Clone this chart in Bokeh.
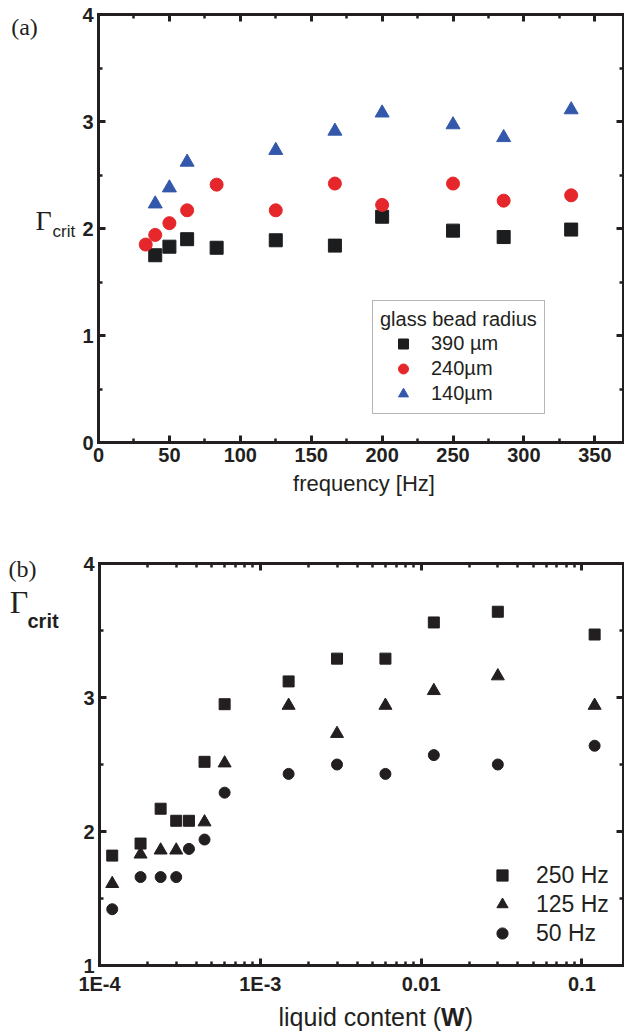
import math
from bokeh.plotting import figure
from bokeh.models import (FixedTicker, LinearAxis, LogAxis, Label, Legend, LegendItem,
                          CustomJSTickFormatter, Range1d)
from bokeh.layouts import column
from bokeh.embed import file_html
from bokeh.resources import INLINE

# ---------------- data: panel (a) ----------------
freq_390 = [40, 50, 62.5, 83.3, 125, 166.7, 200, 250, 285.7, 333.3]
gamma_390 = [1.75, 1.83, 1.90, 1.82, 1.89, 1.84, 2.11, 1.98, 1.92, 1.99]
freq_240 = [33.3, 40, 50, 62.5, 83.3, 125, 166.7, 200, 250, 285.7, 333.3]
gamma_240 = [1.85, 1.94, 2.05, 2.17, 2.41, 2.17, 2.42, 2.22, 2.42, 2.26, 2.31]
freq_140 = [40, 50, 62.5, 125, 166.7, 200, 250, 285.7, 333.3]
gamma_140 = [2.23, 2.38, 2.62, 2.73, 2.91, 3.08, 2.97, 2.85, 3.11]
labels_a = ["390 µm", "240µm", "140µm"]
xticks_a = [0, 50, 100, 150, 200, 250, 300, 350]
xminor_a = [25, 75, 125, 175, 225, 275, 325]
yticks_a = [0, 1, 2, 3, 4]
yminor_a = [0.5, 1.5, 2.5, 3.5]

# ---------------- data: panel (b) ----------------
w_250 = [1.2e-4, 1.8e-4, 2.4e-4, 3.0e-4, 3.6e-4, 4.5e-4, 6.0e-4, 1.5e-3, 3.0e-3, 6.0e-3, 1.2e-2, 3.0e-2, 1.2e-1]
gamma_250 = [1.82, 1.91, 2.17, 2.08, 2.08, 2.52, 2.95, 3.12, 3.29, 3.29, 3.56, 3.64, 3.47]
w_125 = [1.2e-4, 1.8e-4, 2.4e-4, 3.0e-4, 4.5e-4, 6.0e-4, 1.5e-3, 3.0e-3, 6.0e-3, 1.2e-2, 3.0e-2, 1.2e-1]
gamma_125 = [1.61, 1.83, 1.86, 1.86, 2.07, 2.51, 2.94, 2.73, 2.94, 3.05, 3.16, 2.94]
w_50 = [1.2e-4, 1.8e-4, 2.4e-4, 3.0e-4, 3.6e-4, 4.5e-4, 6.0e-4, 1.5e-3, 3.0e-3, 6.0e-3, 1.2e-2, 3.0e-2, 1.2e-1]
gamma_50 = [1.42, 1.66, 1.66, 1.66, 1.87, 1.94, 2.29, 2.43, 2.50, 2.43, 2.57, 2.50, 2.64]
labels_b = ["250 Hz", "125 Hz", "50 Hz"]
xticks_b = [1e-4, 1e-3, 1e-2, 1e-1]
xminor_b = [k * 10.0 ** e for e in (-4, -3, -2, -1) for k in range(2, 10)]
yticks_b = [1, 2, 3, 4]
yminor_b = [1.5, 2.5, 3.5]

INK = "#231f20"
SANS = "Liberation Sans"
SERIF = "Liberation Serif"
BLACK = "#1b1d1e"
RED = "#e5262b"
BLUE = "#3358ab"

# ---------------- geometry (pixels) ----------------
W = 624
H1, H2 = 538, 493
A_LEFT, A_BOT, A_TOPPX = 98, 442, 14
A_XMAX, A_YMAX = 370.2, 4.0
A_PPX = (W - 1 - A_LEFT) / A_XMAX
A_PPY = (A_BOT - A_TOPPX) / A_YMAX
B_LEFT, B_BOT, B_TOPPX = 99, 427, 25
B_XMIN, B_YMIN, B_YMAX = 1e-4, 1.0, 4.0
B_DEC = 160.8
B_XMAX = 10.0 ** (-4.0 + (W - 1 - B_LEFT) / B_DEC)
B_PPY = (B_BOT - B_TOPPX) / (B_YMAX - B_YMIN)


def ax_(px):  # canvas px -> data (panel a)
    return (px - A_LEFT) / A_PPX
def ay_(py):
    return (A_BOT - py) / A_PPY
def bx_(px):  # canvas px -> data (panel b)
    return 10.0 ** (-4.0 + (px - B_LEFT) / B_DEC)
def by_(py):
    return B_YMIN + (B_BOT - py) / B_PPY


def style_axis(ax, labels=True, standoff=5):
    ax.axis_line_color = INK
    ax.axis_line_width = 3
    ax.axis_line_cap = "square"
    ax.major_tick_in = 7
    ax.major_tick_out = 0
    ax.major_tick_line_width = 3
    ax.major_tick_line_color = INK
    ax.minor_tick_in = 4
    ax.minor_tick_out = 0
    ax.minor_tick_line_width = 2.5
    ax.minor_tick_line_color = INK
    if labels:
        ax.major_label_text_font = SANS
        ax.major_label_text_font_size = "20px"
        ax.major_label_text_font_style = "bold"
        ax.major_label_text_color = INK
        ax.major_label_standoff = standoff
    else:
        ax.formatter = CustomJSTickFormatter(code="return ''")
        ax.major_label_text_font_size = "0px"
        ax.major_label_standoff = 0


def lab(p, x, y, text, size, font=SANS, style="normal", align="center"):
    p.add_layout(Label(x=x, y=y, text=text,
                       text_font=font, text_font_size=size, text_font_style=style,
                       text_color=INK, text_align=align, text_baseline="middle"))


# ================= panel (a) =================
p1 = figure(width=W, height=H1,
            x_range=Range1d(ax_(0), ax_(W)), y_range=Range1d(ay_(H1), ay_(0)),
            output_backend="svg", toolbar_location=None,
            min_border_left=0, min_border_right=0, min_border_top=0, min_border_bottom=0)
p1.outline_line_color = None
p1.xgrid.visible = False
p1.ygrid.visible = False

bot1 = p1.xaxis[0]
left1 = p1.yaxis[0]
bot1.ticker = FixedTicker(ticks=xticks_a, minor_ticks=xminor_a)
left1.ticker = FixedTicker(ticks=yticks_a, minor_ticks=yminor_a)
bot1.fixed_location = 0
bot1.bounds = (0, A_XMAX)
left1.fixed_location = 0
left1.bounds = (0, A_YMAX)
style_axis(bot1, standoff=5)
style_axis(left1, standoff=5)
top1 = LinearAxis(ticker=FixedTicker(ticks=xticks_a, minor_ticks=xminor_a),
                  fixed_location=A_YMAX, bounds=(0, A_XMAX))
right1 = LinearAxis(ticker=FixedTicker(ticks=yticks_a, minor_ticks=yminor_a),
                    fixed_location=A_XMAX, bounds=(0, A_YMAX))
style_axis(top1, labels=False)
style_axis(right1, labels=False)
p1.add_layout(top1, "above")
p1.add_layout(right1, "right")

r_sq = p1.scatter(freq_390, gamma_390, marker="square", size=13, fill_color=BLACK, line_color=BLACK)
r_ci = p1.scatter(freq_240, gamma_240, marker="circle", size=13, fill_color=RED, line_color=RED)
r_tr = p1.scatter(freq_140, gamma_140, marker="triangle", size=14, fill_color=BLUE, line_color=BLUE)

leg1 = Legend(items=[LegendItem(label=labels_a[0], renderers=[r_sq]),
                     LegendItem(label=labels_a[1], renderers=[r_ci]),
                     LegendItem(label=labels_a[2], renderers=[r_tr])],
              location=(372, H1 - 414), title="glass bead radius",
              border_line_color="#6d6e71", border_line_width=1.5,
              background_fill_color="white", background_fill_alpha=1.0,
              padding=7, spacing=0, margin=0,
              glyph_width=46, glyph_height=25, label_height=25, label_standoff=5,
              title_standoff=0,
              label_text_font=SANS, label_text_font_size="20px", label_text_color=INK,
              title_text_font=SANS, title_text_font_size="20px",
              title_text_font_style="normal", title_text_color=INK)
p1.add_layout(leg1)

lab(p1, ax_(24), ay_(26), "(a)", "24px", font=SERIF)
lab(p1, ax_(43), ay_(220), "Γ", "28px", font=SERIF)
lab(p1, ax_(52), ay_(231), "crit", "17px", align="left")
lab(p1, ax_(363.5), ay_(483), "frequency [Hz]", "22px")

# ================= panel (b) =================
p2 = figure(width=W, height=H2, x_axis_type="log",
            x_range=Range1d(bx_(0), bx_(W)), y_range=Range1d(by_(H2), by_(0)),
            output_backend="svg", toolbar_location=None,
            min_border_left=0, min_border_right=0, min_border_top=0, min_border_bottom=0)
p2.outline_line_color = None
p2.xgrid.visible = False
p2.ygrid.visible = False

bot2 = p2.xaxis[0]
left2 = p2.yaxis[0]
bot2.ticker = FixedTicker(ticks=xticks_b, minor_ticks=xminor_b)
left2.ticker = FixedTicker(ticks=yticks_b, minor_ticks=yminor_b)
bot2.fixed_location = B_YMIN
bot2.bounds = (B_XMIN, B_XMAX)
left2.fixed_location = B_XMIN
left2.bounds = (B_YMIN, B_YMAX)
style_axis(bot2, standoff=7)
style_axis(left2, standoff=5)
bot2.formatter = CustomJSTickFormatter(code="""
const e = Math.round(Math.log10(tick));
const m = {"-4": "1E-4", "-3": "1E-3", "-2": "0.01", "-1": "0.1"};
return m[String(e)] || "";
""")
top2 = LogAxis(ticker=FixedTicker(ticks=xticks_b, minor_ticks=xminor_b),
               fixed_location=B_YMAX, bounds=(B_XMIN, B_XMAX))
right2 = LinearAxis(ticker=FixedTicker(ticks=yticks_b, minor_ticks=yminor_b),
                    fixed_location=B_XMAX, bounds=(B_YMIN, B_YMAX))
style_axis(top2, labels=False)
style_axis(right2, labels=False)
p2.add_layout(top2, "above")
p2.add_layout(right2, "right")

s250 = p2.scatter(w_250, gamma_250, marker="square", size=11, fill_color=INK, line_color=INK)
s125 = p2.scatter(w_125, gamma_125, marker="triangle", size=13, fill_color=INK, line_color=INK)
s50 = p2.scatter(w_50, gamma_50, marker="circle", size=11, fill_color=INK, line_color=INK)

leg2 = Legend(items=[LegendItem(label=labels_b[0], renderers=[s250]),
                     LegendItem(label=labels_b[1], renderers=[s125]),
                     LegendItem(label=labels_b[2], renderers=[s50])],
              location=(488, H2 - 409), border_line_color=None, background_fill_alpha=0.0,
              padding=0, spacing=1, margin=0,
              glyph_width=28, glyph_height=28, label_height=28, label_standoff=20,
              label_text_font=SANS, label_text_font_size="23px", label_text_color=INK)
p2.add_layout(leg2)

lab(p2, bx_(22), by_(30), "(b)", "24px", font=SERIF)
lab(p2, bx_(18.5), by_(63), "Γ", "32px", font=SERIF)
lab(p2, bx_(27), by_(82), "crit", "20px", style="bold", align="left")
lab(p2, bx_(278), by_(478), "liquid content (", "25px", align="left")
lab(p2, bx_(440.6), by_(478), "W", "25px", style="bold", align="left")
lab(p2, bx_(464.2), by_(478), ")", "25px", align="left")

layout = column(p1, p2, spacing=0)
open("out.html", "w").write(file_html(layout, INLINE))
